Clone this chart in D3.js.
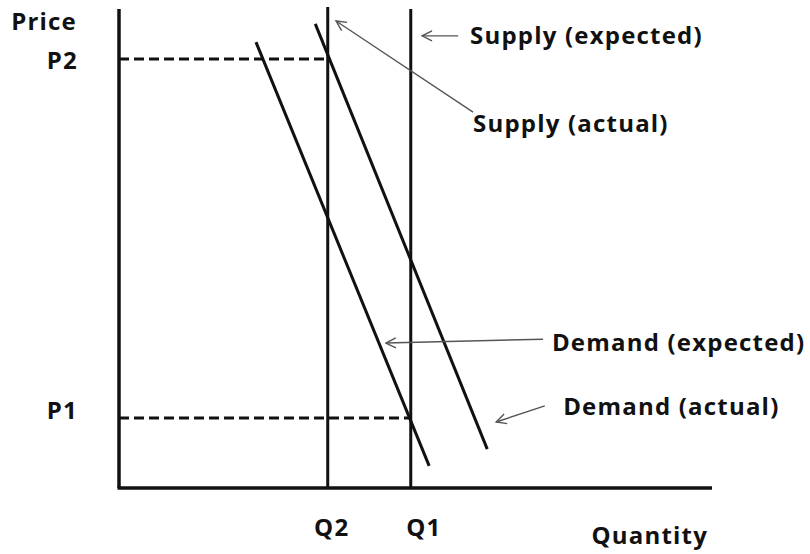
<!DOCTYPE html>
<html>
<head>
<meta charset="utf-8">
<script src="https://cdn.jsdelivr.net/npm/d3@7"></script>
<style>
  body { margin: 0; background: #fff; }
  text { font-family: "Open Sans", sans-serif; font-weight: 700; fill: #111; font-size: 24px; letter-spacing: 1.2px; }
</style>
</head>
<body>
<script>
"use strict";

(function() {

let width = 810;
let height = 554;

// quantities (vertical supply lines) and prices (dashed guides)
let qLabels = ['Q2', 'Q1'];
let qValues = [35.2, 49.2];
let qTops = [100.2, 99.8];
let pLabels = ['P2', 'P1'];
let pValues = [89.4, 14.6];
let pEnds = [35.2, 49.2];

// demand curves, start and end points [quantity, price]
let demandNames = ['Demand (expected)', 'Demand (actual)'];
let demandStart = [[23.1, 92.9], [33.1, 96.7]];
let demandEnd = [[52.3, 4.6], [62.1, 8.1]];

// annotation labels and their pointer arrows
let noteLabels = ['Supply (expected)', 'Supply (actual)', 'Demand (expected)', 'Demand (actual)'];
let noteAt = [[59.2, 94.2], [59.7, 76.0], [73.0, 30.2], [74.9, 16.9]];
let arrowFrom = [[57.2, 94.2], [59.7, 78.3], [71.5, 31.0], [71.8, 17.1]];
let arrowTo = [[51.1, 94.2], [36.6, 97.3], [45.0, 30.2], [63.6, 13.75]];

let x = d3.scaleLinear().domain([0, 100]).range([119, 712]);
let y = d3.scaleLinear().domain([0, 100]).range([488, 8]);

let svg = d3.select('body')
    .append('svg')
    .attr('width', width)
    .attr('height', height);

let defs = svg.append('defs');
defs.append('marker')
    .attr('id', 'open-arrow')
    .attr('viewBox', '0 0 12 12')
    .attr('refX', 11)
    .attr('refY', 6)
    .attr('markerWidth', 12)
    .attr('markerHeight', 12)
    .attr('markerUnits', 'userSpaceOnUse')
    .attr('orient', 'auto')
    .append('path')
        .attr('d', 'M1,1 L11,6 L1,11')
        .attr('fill', 'none')
        .attr('stroke', '#555')
        .attr('stroke-width', 1.4);

// dashed price guides
svg.selectAll('.guide')
    .data(pValues)
    .enter()
    .append('line')
    .attr('class', 'guide')
    .attr('x1', x(0))
    .attr('x2', function(d, i) { return x(pEnds[i]); })
    .attr('y1', function(d) { return y(d); })
    .attr('y2', function(d) { return y(d); })
    .attr('stroke', '#111')
    .attr('stroke-width', 3)
    .attr('stroke-dasharray', '10,5');

// supply lines (vertical)
svg.selectAll('.supply')
    .data(qValues)
    .enter()
    .append('line')
    .attr('class', 'supply')
    .attr('x1', function(d) { return x(d); })
    .attr('x2', function(d) { return x(d); })
    .attr('y1', y(0))
    .attr('y2', function(d, i) { return y(qTops[i]); })
    .attr('stroke', '#111')
    .attr('stroke-width', 3);

// demand lines
svg.selectAll('.demand')
    .data(demandNames)
    .enter()
    .append('line')
    .attr('class', 'demand')
    .attr('x1', function(d, i) { return x(demandStart[i][0]); })
    .attr('y1', function(d, i) { return y(demandStart[i][1]); })
    .attr('x2', function(d, i) { return x(demandEnd[i][0]); })
    .attr('y2', function(d, i) { return y(demandEnd[i][1]); })
    .attr('stroke', '#111')
    .attr('stroke-width', 3);

// axes
svg.append('line')
    .attr('x1', x(0)).attr('x2', x(0))
    .attr('y1', y(0)).attr('y2', y(99.8))
    .attr('stroke', '#111')
    .attr('stroke-width', 3.5);
svg.append('line')
    .attr('x1', x(0) - 1.5).attr('x2', x(100))
    .attr('y1', y(0)).attr('y2', y(0))
    .attr('stroke', '#111')
    .attr('stroke-width', 3.5);

// pointer arrows
svg.selectAll('.pointer')
    .data(noteLabels)
    .enter()
    .append('line')
    .attr('class', 'pointer')
    .attr('x1', function(d, i) { return x(arrowFrom[i][0]); })
    .attr('y1', function(d, i) { return y(arrowFrom[i][1]); })
    .attr('x2', function(d, i) { return x(arrowTo[i][0]); })
    .attr('y2', function(d, i) { return y(arrowTo[i][1]); })
    .attr('stroke', '#555')
    .attr('stroke-width', 1.4)
    .attr('marker-end', 'url(#open-arrow)');

// annotation texts
svg.selectAll('.note')
    .data(noteLabels)
    .enter()
    .append('text')
    .attr('class', 'note')
    .attr('x', function(d, i) { return x(noteAt[i][0]); })
    .attr('y', function(d, i) { return y(noteAt[i][1]); })
    .attr('dy', '0.35em')
    .text(function(d) { return d; });

// axis labels
let pShift = [2, -7];
svg.selectAll('.plabel')
    .data(pLabels)
    .enter()
    .append('text')
    .attr('class', 'plabel')
    .attr('x', 78)
    .attr('y', function(d, i) { return y(pValues[i]) + pShift[i]; })
    .attr('dy', '0.35em')
    .style('text-anchor', 'end')
    .text(function(d) { return d; });

let qShift = [4, 13];
svg.selectAll('.qlabel')
    .data(qLabels)
    .enter()
    .append('text')
    .attr('class', 'qlabel')
    .attr('x', function(d, i) { return x(qValues[i]) + qShift[i]; })
    .attr('y', y(0) + 40)
    .attr('dy', '0.35em')
    .style('text-anchor', 'middle')
    .text(function(d) { return d; });

svg.append('text')
    .attr('x', 77)
    .attr('y', 22)
    .attr('dy', '0.35em')
    .style('text-anchor', 'end')
    .text('Price');

svg.append('text')
    .attr('x', 708)
    .attr('y', 536)
    .attr('dy', '0.35em')
    .style('text-anchor', 'end')
    .text('Quantity');

})();
</script>
</body>
</html>
